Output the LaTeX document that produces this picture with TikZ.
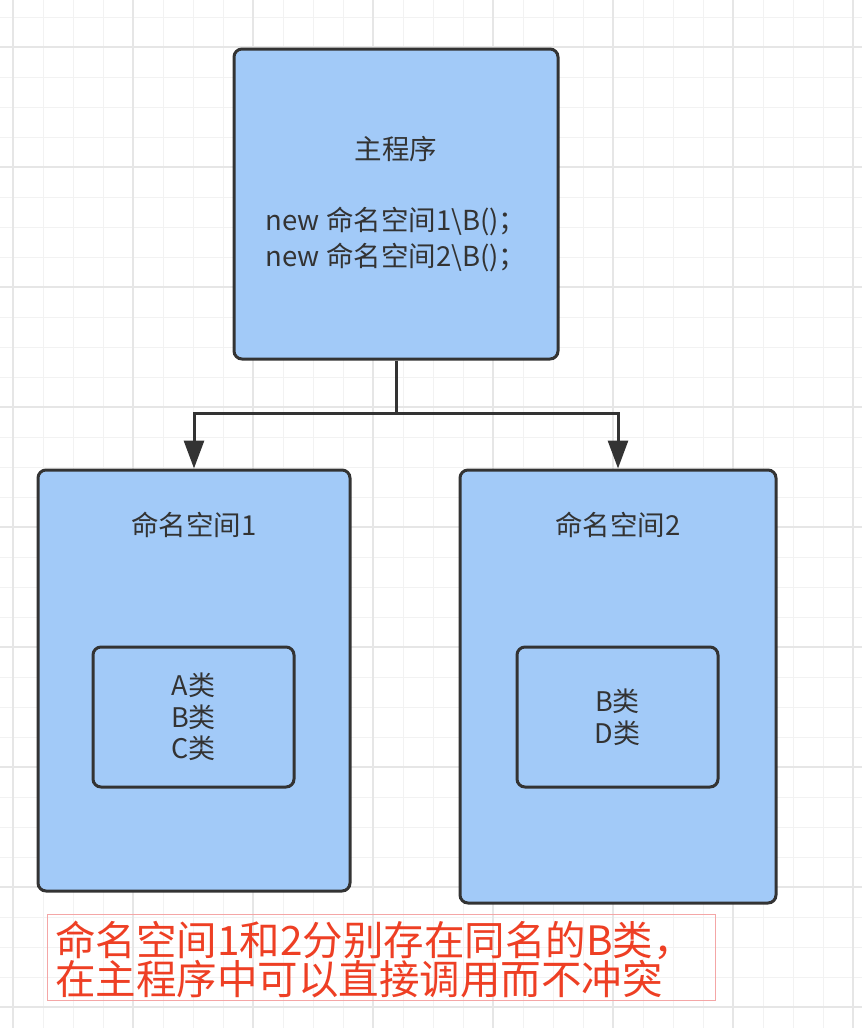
\documentclass[tikz,border=0pt]{standalone}
\usepackage{fontspec}
\setmainfont{Noto Sans CJK SC}
\usetikzlibrary{positioning,arrows.meta}

\definecolor{boxblue}{HTML}{A2CAF8}
\definecolor{boxline}{HTML}{333333}
\definecolor{notered}{HTML}{EE3F24}
\definecolor{noteline}{HTML}{F4A6A6}
\definecolor{gridminor}{HTML}{F2F2F2}
\definecolor{gridmajor}{HTML}{E6E6E6}

\begin{document}
\begin{tikzpicture}[x=1pt, y=-1pt,
blockbox/.style={rectangle, rounded corners=8pt, draw=boxline, fill=boxblue, line width=3pt, inner sep=0pt, text=boxline, align=center},
boxtext/.style={text=boxline, align=center, inner sep=0pt, font=\fontsize{27.5}{35}\selectfont},
classtext/.style={text=boxline, align=center, inner sep=0pt, font=\fontsize{27}{31.5}\selectfont},
link/.style={draw=boxline, line width=3pt},
gridline/.style={draw=gridminor, line width=1pt},
gridbold/.style={draw=gridmajor, line width=1.5pt}
]
    \useasboundingbox (0,0) rectangle (862,1028);
    \fill[white] (0,0) rectangle (862,1028);

    %Grid
    \foreach \gx in {13,43,...,853}
        \draw[gridline] (\gx,0) -- (\gx,1028);
    \foreach \gy in {17,47,...,1027}
        \draw[gridline] (0,\gy) -- (862,\gy);
    \foreach \gx in {13,133,...,853}
        \draw[gridbold] (\gx,0) -- (\gx,1028);
    \foreach \gy in {47,167,...,1007}
        \draw[gridbold] (0,\gy) -- (862,\gy);

    %Nodes
    \node[blockbox, minimum width=324pt, minimum height=310pt, font=\fontsize{27.5}{35.5}\selectfont]
        (main)  at (396,204)    {主程序\\ \\new 命名空间1\textbackslash B()；\\new 命名空间2\textbackslash B()；};
    \node[blockbox, minimum width=312pt, minimum height=421pt]
        (ns1)   at (194,680.5)  {};
    \node[blockbox, minimum width=316pt, minimum height=433pt]
        (ns2)   at (618,686.5)  {};
    \node[boxtext]
        (ns1title)  at (194,525)    {命名空间1};
    \node[boxtext]
        (ns2title)  at (618,525)    {命名空间2};
    \node[blockbox, minimum width=201pt, minimum height=140pt, classtext]
        (cls1)  at (193.5,717)  {A类\\B类\\C类};
    \node[blockbox, minimum width=201pt, minimum height=140pt, classtext]
        (cls2)  at (617.5,717)  {B类\\D类};
    \node[draw=noteline, line width=1pt, minimum width=668pt, minimum height=86pt, inner sep=0pt]
        (note)  at (381,957)    {};
    \node[text=notered, anchor=west, align=left, inner sep=0pt, font=\fontsize{40.5}{39}\selectfont]
        (notetext)  at (55,959) {命名空间1和2分别存在同名的B类，\\在主程序中可以直接调用而不冲突};

    %Lines
    \coordinate (fork) at (main.south |- 0,413);
    \draw[link]
        (main.south) -- (fork);
    \draw[link, -{Triangle[width=20pt,length=28pt]}]
        (fork) -| (ns1.north);
    \draw[link, -{Triangle[width=20pt,length=28pt]}]
        (fork) -| (ns2.north);
\end{tikzpicture}
\end{document}
